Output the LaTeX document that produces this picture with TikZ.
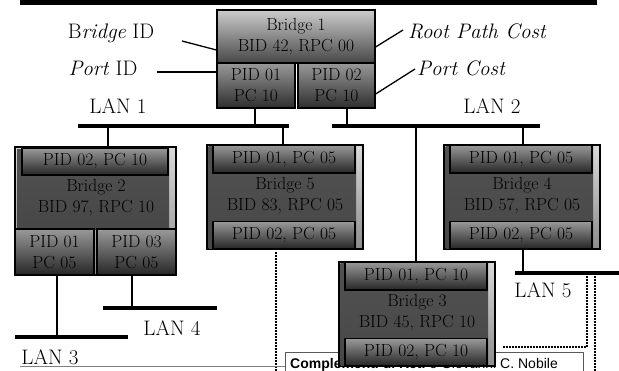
\documentclass[tikz,border=0pt]{standalone}
\usepackage{fontspec}
\newfontfamily\footfont{Liberation Sans}
\usetikzlibrary{positioning, arrows.meta}
\tikzset{
  boxtxt/.style={font=\fontsize{17.5}{21}\selectfont, align=center, inner sep=0pt},
  annot/.style={font=\fontsize{21}{24}\selectfont, inner sep=0pt},
  wire/.style={line width=1.3pt},
  lan/.style={line width=3.5pt},
  dots/.style={line width=1.6pt, dash pattern=on 1.6pt off 1.4pt},
  outerbox/.style={draw, line width=1.2pt, inner sep=0pt, top color=black!15, bottom color=black!45},
  body/.style={top color=black!68, middle color=black!25, bottom color=black!72},
  port/.style={draw, line width=1.2pt, inner sep=0pt, top color=black!40, bottom color=black!85, boxtxt},
  headbox/.style={draw, line width=1.2pt, inner sep=0pt, top color=black!20, bottom color=black!72, boxtxt},
  headport/.style={draw, line width=1.2pt, inner sep=0pt, top color=black!40, bottom color=black!82, boxtxt},
}
\begin{document}
\begin{tikzpicture}[x=1pt, y=-1pt]
\useasboundingbox (0,0) rectangle (619,370);
% slide bar on top
\fill (20,0) rectangle (597,4.5);

% Bridge 1 (root)
\node[headbox, minimum width=158pt, minimum height=53pt] (b1) at (296,36.5) {Bridge 1\\BID 42, RPC 00};
\node[headport, minimum width=78pt, minimum height=45pt] (b1pa) at (256,85.5) {PID 01\\PC 10};
\node[headport, minimum width=77pt, minimum height=45pt] (b1pb) at (336.5,85.5) {PID 02\\PC 10};

% legend
\node[annot] (lbid) at (111,33) {B\textit{ridge} ID};
\node[annot] (lpid) at (103,68) {\textit{Port} ID};
\node[annot, anchor=west] (lrpc) at (408,31) {\textit{Root Path Cost}};
\node[annot, anchor=west] (lpc) at (417,68) {\textit{Port Cost}};
\coordinate (cbid) at (182,41);
\coordinate (cpid) at (157,72);
\coordinate (crpc) at (403,30);
\coordinate (cpc) at (415,69);
\draw[wire] (cbid) -- (b1.west |- 0,50);
\draw[wire] (cpid) -- (cpid -| b1pa.west);
\draw[wire] (crpc) -- (b1.east |- 0,47);
\draw[wire] (cpc) -- (b1pb.east |- 0,94);

% LANs
\coordinate (l1a) at (78,126);  \coordinate (l1b) at (289,126);
\coordinate (l2a) at (332,126); \coordinate (l2b) at (540,126);
\coordinate (l3a) at (15,337);  \coordinate (l3b) at (128,337);
\coordinate (l4a) at (103,308); \coordinate (l4b) at (217,308);
\coordinate (l5a) at (515,273); \coordinate (l5b) at (619,273);
\foreach \a/\b in {l1a/l1b, l2a/l2b, l3a/l3b, l4a/l4b, l5a/l5b}{
  \draw[lan] (\a) -- (\b);
}
\node[annot] (lan1) at (118,106) {LAN 1};
\node[annot] (lan2) at (492,106) {LAN 2};
\node[annot] (lan3) at (50,357) {LAN 3};
\node[annot] (lan4) at (172,328) {LAN 4};
\node[annot] (lan5) at (543,290) {LAN 5};

% dotted guides
\draw[dots] (276,252) -- (276,372);
\draw[dots] (587,276) -- (587,347) -- (503,347);
\draw[dots] (595,276) -- (595,372);

% footer
\draw[gray, line width=0.8pt] (20,366) -- (285,366);
\draw[gray!70!black, line width=0.8pt, fill=white] (285,352) rectangle (583,380);
\node[anchor=base west, inner sep=0pt, font=\footfont\fontsize{14}{16}\selectfont] (foot) at (290,368.5)
  {\textbf{Complementi di Reti} e Giovanni C. Nobile};

% Bridge 2
\node[outerbox, minimum width=161pt, minimum height=128pt] (b2) at (95.5,211) {};
\fill[body] (17,149) rectangle (169,229);
\node[port, minimum width=146pt, minimum height=27pt] (b2p) at (95,161.5) {PID 02, PC 10};
\node[boxtxt] (b2t) at (96,198) {Bridge 2\\BID 97, RPC 10};
\node[port, minimum width=79pt, minimum height=46pt] (b2pa) at (54.5,252) {PID 01\\PC 05};
\node[port, minimum width=79pt, minimum height=46pt] (b2pb) at (136.5,252) {PID 03\\PC 05};

% Bridges 5, 4, 3
\foreach \n/\x/\y/\t/\b/\pa/\pb in {
  b5/207/145/{Bridge 5}/{BID 83, RPC 05}/{PID 01, PC 05}/{PID 02, PC 05},
  b4/444/145/{Bridge 4}/{BID 57, RPC 05}/{PID 01, PC 05}/{PID 02, PC 05},
  b3/339/262/{Bridge 3}/{BID 45, RPC 10}/{PID 01, PC 10}/{PID 02, PC 10}}{
  \node[outerbox, minimum width=156pt, minimum height=104pt] (\n) at ({\x+78},{\y+52}) {};
  \fill[body] ({\x+1.5},{\y+1}) rectangle ({\x+149},{\y+103});
  \node[port, minimum width=142pt, minimum height=28pt] (\n-pa) at ({\x+77},{\y+14}) {\pa};
  \node[port, minimum width=142pt, minimum height=27pt] (\n-pb) at ({\x+77},{\y+90}) {\pb};
  \node[boxtxt] (\n-t) at ({\x+78},{\y+51}) {\t\\\b};
}

% taps from LANs to ports
\coordinate (t1) at (255,126);
\coordinate (t2) at (347,126);
\coordinate (t3) at (108,126);
\coordinate (t4) at (283,126);
\coordinate (t5) at (416,126);
\coordinate (t6) at (523,126);
\coordinate (t7) at (57,337);
\coordinate (t8) at (132,308);
\coordinate (t9) at (523,273);
\draw[wire] (t1) -- (t1 |- b1pa.south);
\draw[wire] (t2) -- (t2 |- b1pb.south);
\draw[wire] (t3) -- (t3 |- b2.north);
\draw[wire] (t4) -- (t4 |- b5.north);
\draw[wire] (t5) -- (t5 |- b3.north);
\draw[wire] (t6) -- (t6 |- b4.north);
\draw[wire] (t7) -- (t7 |- b2pa.south);
\draw[wire] (t8) -- (t8 |- b2pb.south);
\draw[wire] (t9) -- (t9 |- b4.south);
\end{tikzpicture}
\end{document}
